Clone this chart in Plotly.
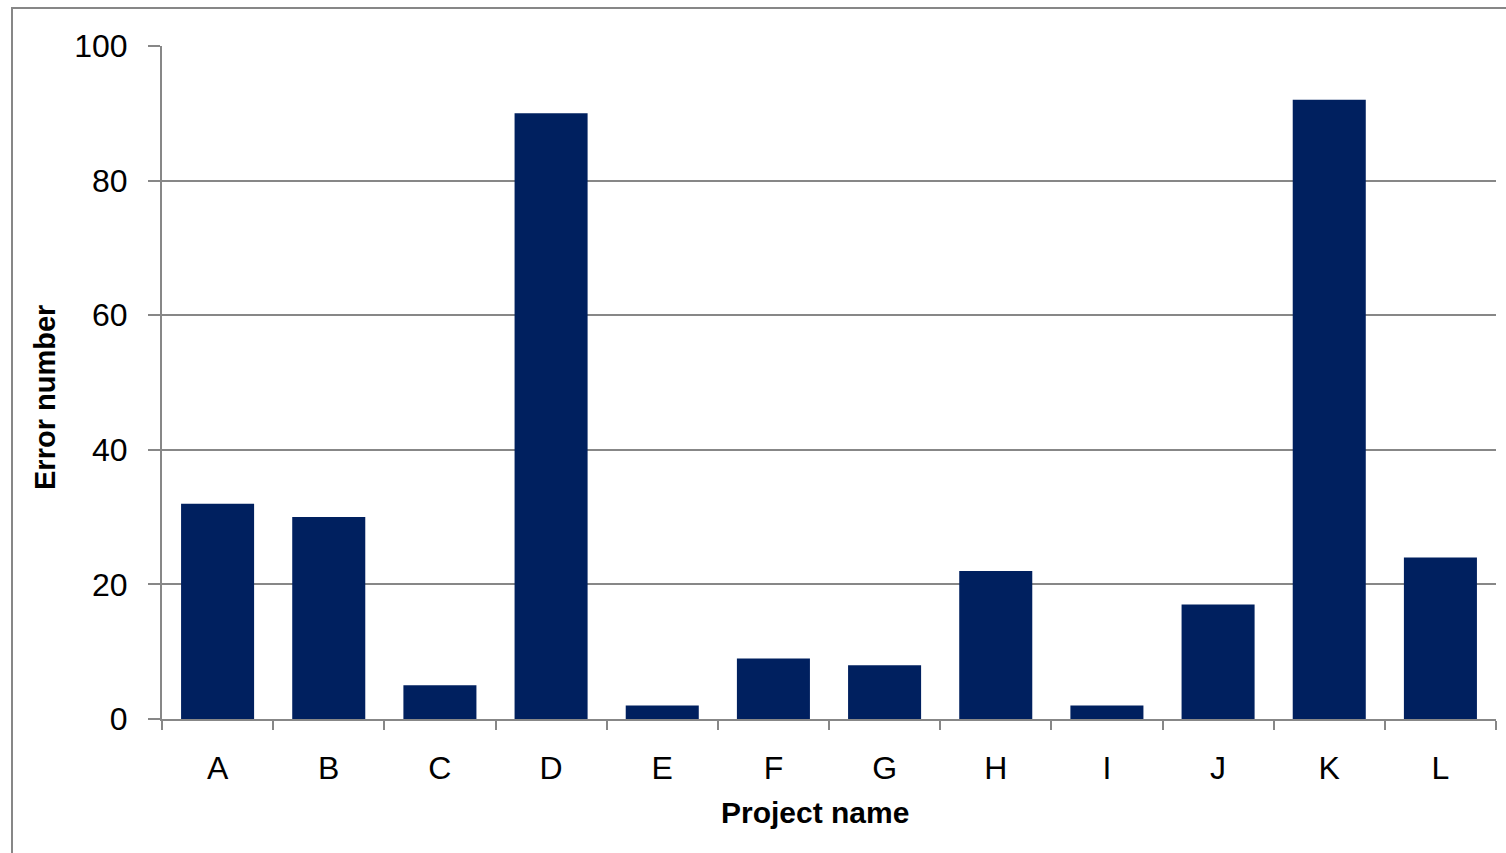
import plotly.graph_objects as go

projects = ["A", "B", "C", "D", "E", "F", "G", "H", "I", "J", "K", "L"]
errors = [32, 30, 5, 90, 2, 9, 8, 22, 2, 17, 92, 24]
y_ticks = [0, 20, 40, 60, 80, 100]
x_title = "Project name"
y_title = "Error number"

W, H = 1506, 853
L, R, T, B = 162, 10, 46, 134
pw, ph = W - L - R, H - T - B

def px_x(x):
    return (x - L) / pw

def px_y(y):
    return (H - B - y) / ph

grey = "#878787"
font_fam = "Liberation Sans, Arial, sans-serif"

fig = go.Figure(go.Bar(x=projects, y=errors, marker=dict(color="#00205f", line=dict(width=0))))

fig.update_layout(
    width=W, height=H,
    margin=dict(l=L, r=R, t=T, b=B),
    paper_bgcolor="white", plot_bgcolor="white",
    bargap=0.343,
    showlegend=False,
    font=dict(family=font_fam, color="black", size=32),
)
fig.update_xaxes(
    type="category",
    showline=True, linecolor=grey, linewidth=2,
    ticks="outside", tickson="boundaries", ticklen=9, tickwidth=2, tickcolor=grey,
    showgrid=False,
    tickfont=dict(size=32),
    ticklabelstandoff=20,
)
fig.update_yaxes(
    range=[0, 100], tickvals=y_ticks,
    showline=True, linecolor=grey, linewidth=2,
    ticks="outside", ticklen=12, tickwidth=2, tickcolor=grey,
    showgrid=True, gridcolor=grey, gridwidth=2,
    tickfont=dict(size=32),
    ticklabelstandoff=14,
    zeroline=False,
)
fig.add_annotation(text="<b>" + x_title + "</b>", xref="paper", yref="paper",
                   x=px_x(815), y=px_y(812), xanchor="center", yanchor="middle",
                   showarrow=False, font=dict(size=30))
fig.add_annotation(text="<b>" + y_title + "</b>", xref="paper", yref="paper",
                   x=px_x(45), y=px_y(398), xanchor="center", yanchor="middle",
                   textangle=-90, showarrow=False, font=dict(size=29))
# outer chart border (partly cropped)
fig.add_shape(type="rect", xref="paper", yref="paper",
              x0=px_x(12), x1=px_x(W + 20), y0=px_y(H + 20), y1=px_y(8),
              line=dict(color=grey, width=2), fillcolor="rgba(0,0,0,0)", layer="below")

fig.write_html("out.html")
